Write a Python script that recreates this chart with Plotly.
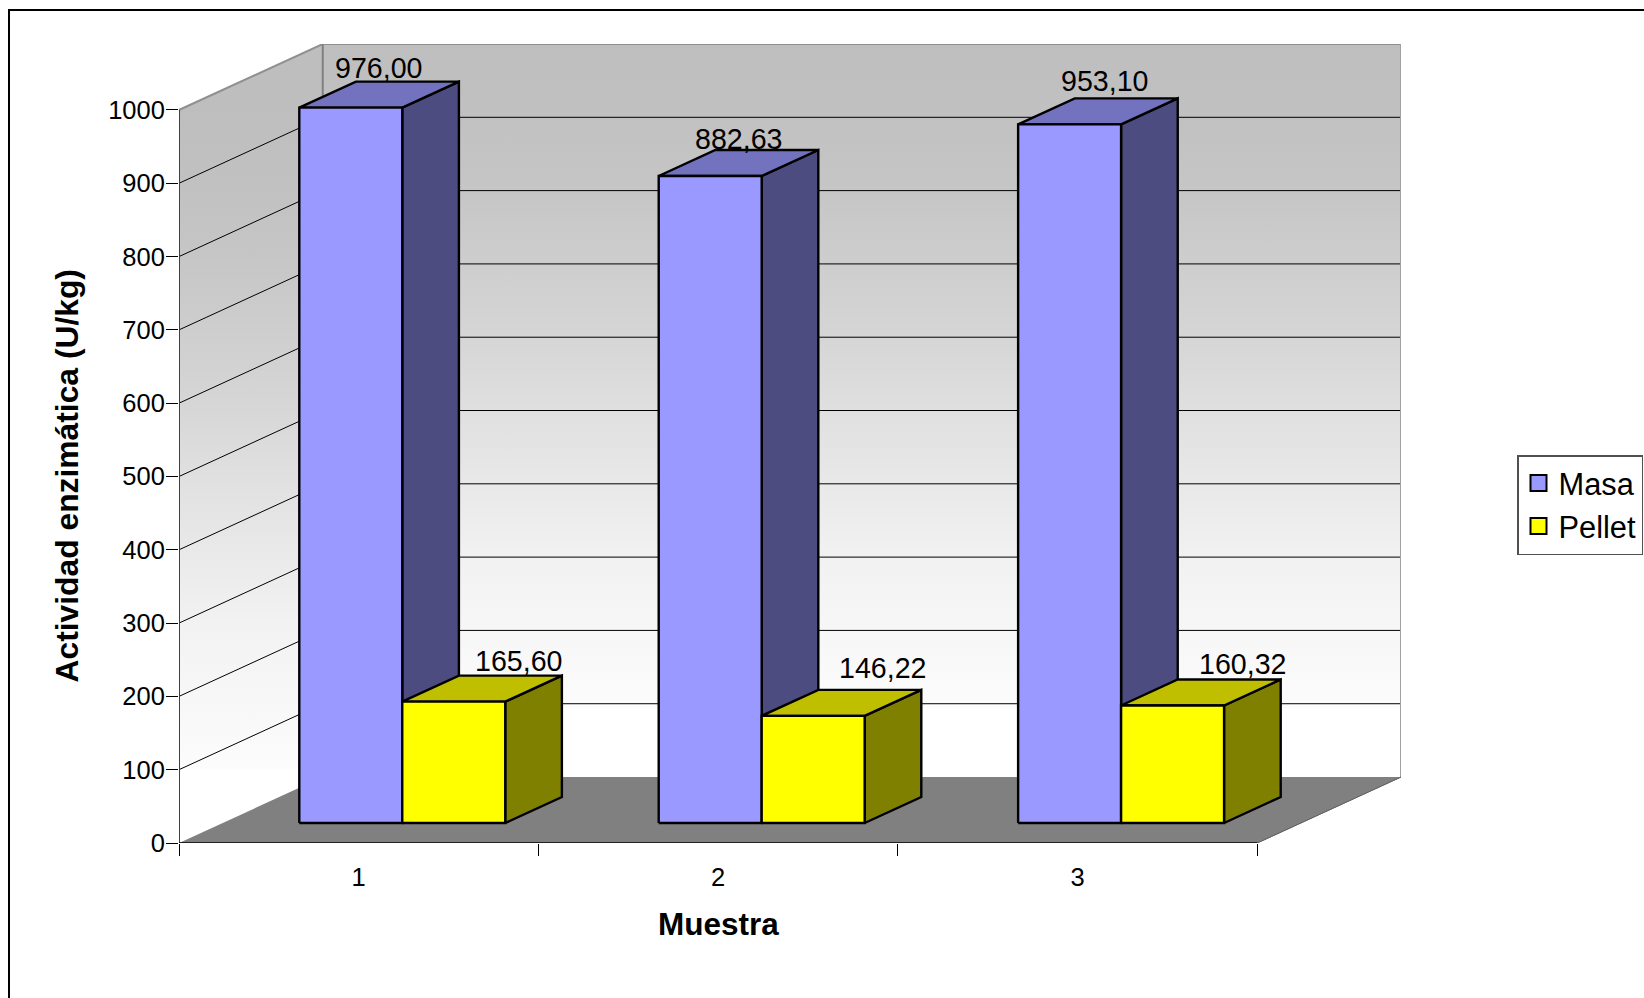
import plotly.graph_objects as go

# Enzyme activity per sample
categories = ["1", "2", "3"]
masa = [976.00, 882.63, 953.10]
pellet = [165.60, 146.22, 160.32]
value_ticks = [0, 100, 200, 300, 400, 500, 600, 700, 800, 900, 1000]

# Hand-placed offsets of the value labels (pixels)
masa_label_shift = [(-1, 27), (0, 24), (7, 30)]
pellet_label_shift = [(36, 28), (41, 35), (42, 28)]

# Oblique projection of the chart's depth onto the x/y axes
DEPTH_X = 0.4
DEPTH_Y = 90
BAR_Z0, BAR_Z1 = 0.303, 0.697
BAR_W = 0.2865
Y_TOP = 1000


def proj(x, y, z):
    return x + DEPTH_X * z, y + DEPTH_Y * z


def poly(points):
    pts = [proj(*p) for p in points] + [proj(*points[0])]
    return [p[0] for p in pts], [p[1] for p in pts]


def face(points, fill, line="#000000", width=2.4, **kw):
    xs, ys = poly(points)
    return go.Scatter(x=xs, y=ys, mode="lines", fill="toself", fillcolor=fill,
                      line=dict(color=line, width=width), hoverinfo="skip",
                      showlegend=False, cliponaxis=False, **kw)


def segment(p, q, color, width):
    xs, ys = zip(proj(*p), proj(*q))
    return go.Scatter(x=xs, y=ys, mode="lines", line=dict(color=color, width=width),
                      hoverinfo="skip", showlegend=False, cliponaxis=False)


def wall_gradient(start, stop):
    return dict(type="vertical", start=start, stop=stop, colorscale=[
        [0.0, "#FFFFFF"], [0.012, "#FFFFFF"], [0.013, "#FCFCFC"],
        [0.12, "#F7F7F7"], [0.23, "#F2F2F2"], [0.34, "#E9E9E9"], [0.45, "#E0E0E0"],
        [0.56, "#D6D6D6"], [0.67, "#CECECE"], [0.78, "#C6C6C6"], [0.89, "#C1C1C1"],
        [1.0, "#BEBEBE"]])


fig = go.Figure()

# Floor
fig.add_trace(face([(0, 0, 0), (3, 0, 0), (3, 0, 1), (0, 0, 1)], "#808080", "#808080", 1))

# Side and back walls
fig.add_trace(go.Scatter(**dict(zip("xy", poly([(0, 0, 0), (0, Y_TOP, 0), (0, Y_TOP, 1), (0, 0, 1)]))),
                         mode="lines", fill="toself", line=dict(width=0),
                         fillgradient=wall_gradient(90, 1000),
                         hoverinfo="skip", showlegend=False))
fig.add_trace(go.Scatter(**dict(zip("xy", poly([(0, 0, 1), (0, Y_TOP, 1), (3, Y_TOP, 1), (3, 0, 1)]))),
                         mode="lines", fill="toself", line=dict(width=0),
                         fillgradient=wall_gradient(172, 1090),
                         hoverinfo="skip", showlegend=False))

# Gridlines on both walls
for v in value_ticks[1:-1]:
    fig.add_trace(segment((0, v, 0), (0, v, 1), "#000000", 1))
    fig.add_trace(segment((0, v, 1), (3, v, 1), "#000000", 1))

# Wall outlines and the front edge of the floor
fig.add_trace(segment((0, Y_TOP, 0), (0, Y_TOP, 1), "#909090", 2))
fig.add_trace(segment((0, Y_TOP, 1), (3, Y_TOP, 1), "#909090", 2))
fig.add_trace(segment((0, 0, 1), (0, Y_TOP, 1), "#808080", 2))
fig.add_trace(segment((3, 0, 1), (3, Y_TOP, 1), "#A0A0A0", 2))
fig.add_trace(segment((0, 0, 0), (0, Y_TOP, 0), "#404040", 2))
fig.add_trace(segment((0, 0, 0), (3, 0, 0), "#000000", 1.5))
fig.add_trace(segment((3, 0, 0), (3, 0, 1), "#606060", 1))


def bar(x0, value, front, top, side):
    x1 = x0 + BAR_W
    z0, z1 = BAR_Z0, BAR_Z1
    fig.add_trace(face([(x1, 0, z0), (x1, 0, z1), (x1, value, z1), (x1, value, z0)], side))
    fig.add_trace(face([(x0, value, z0), (x1, value, z0), (x1, value, z1), (x0, value, z1)], top))
    fig.add_trace(face([(x0, 0, z0), (x1, 0, z0), (x1, value, z0), (x0, value, z0)], front))


# Bars, drawn left to right so nearer faces cover farther ones
for i, (m, p) in enumerate(zip(masa, pellet)):
    bar(i + 0.5 - BAR_W, m, "#9999FF", "#7272BF", "#4C4C80")
    bar(i + 0.5, p, "#FFFF00", "#BFBF00", "#808000")

# Value labels
for i, (m, p) in enumerate(zip(masa, pellet)):
    for val, xc, shift in ((m, i + 0.5 - BAR_W / 2, masa_label_shift[i]),
                           (p, i + 0.5 + BAR_W / 2, pellet_label_shift[i])):
        x, y = proj(xc, val, 0.5)
        fig.add_annotation(x=x, y=y, text=f"{val:.2f}".replace(".", ","), showarrow=False,
                           xshift=shift[0], yshift=shift[1],
                           font=dict(family="Liberation Sans", size=28.6, color="#000000"))

# Legend entries
fig.add_trace(go.Scatter(x=[None], y=[None], mode="markers", name="Masa",
                         marker=dict(symbol="square", size=16, color="#9999FF",
                                     line=dict(color="#000000", width=2))))
fig.add_trace(go.Scatter(x=[None], y=[None], mode="markers", name="Pellet",
                         marker=dict(symbol="square", size=16, color="#FFFF00",
                                     line=dict(color="#000000", width=2))))

W, H = 1644, 998
L, R, T, B = 179, 1401, 44, 843

# Axis titles sit centred on the front edge of each axis
fig.add_annotation(x=1.5, xref="x", y=(B - 924) / (B - T), yref="paper", text="<b>Muestra</b>",
                   xanchor="center", yanchor="middle",
                   showarrow=False, font=dict(size=31.5, family="Liberation Sans"))
fig.add_annotation(x=(67 - L) / (R - L), xref="paper", y=Y_TOP / 2, yref="y",
                   text="<b>Actividad enzimática (U/kg)</b>", textangle=-90,
                   xanchor="center", yanchor="middle",
                   showarrow=False, font=dict(size=31.8, family="Liberation Sans"))

fig.update_layout(
    width=W, height=H, autosize=False,
    margin=dict(l=L, r=W - R, t=T, b=H - B, pad=0, autoexpand=False),
    paper_bgcolor="#FFFFFF", plot_bgcolor="rgba(0,0,0,0)",
    font=dict(family="Liberation Sans", color="#000000"),
    showlegend=True,
    legend=dict(x=(1517 - L) / (R - L), y=(B - 455) / (B - T), xanchor="left", yanchor="top",
                bgcolor="#FFFFFF", bordercolor="#505050", borderwidth=1.5,
                font=dict(size=30.8, family="Liberation Sans"), itemsizing="trace",
                tracegroupgap=0),
    xaxis=dict(range=[0, 3 + DEPTH_X], tickmode="array", tickvals=[0.5, 1.5, 2.5], ticktext=categories,
               ticks="", showgrid=False, zeroline=False, showline=False,
               tickfont=dict(size=25.5), ticklabelstandoff=16,
               minor=dict(tickmode="array", tickvals=[0, 1, 2, 3], ticks="outside", ticklen=12,
                          tickcolor="#000000", tickwidth=1, showgrid=False)),
    yaxis=dict(range=[0, Y_TOP + DEPTH_Y], tickmode="array", tickvals=value_ticks,
               ticktext=[str(v) for v in value_ticks], ticks="outside", ticklen=12,
               tickcolor="#000000", tickwidth=1, showgrid=False, zeroline=False, showline=False,
               tickfont=dict(size=25.5), ticklabelstandoff=-4),
    shapes=[dict(type="rect", xref="paper", yref="paper", layer="below",
                 x0=(9 - L) / (R - L), x1=1.5, y0=-1, y1=(B - 10) / (B - T),
                 line=dict(color="#000000", width=2))],
)

fig.write_html("out.html")
